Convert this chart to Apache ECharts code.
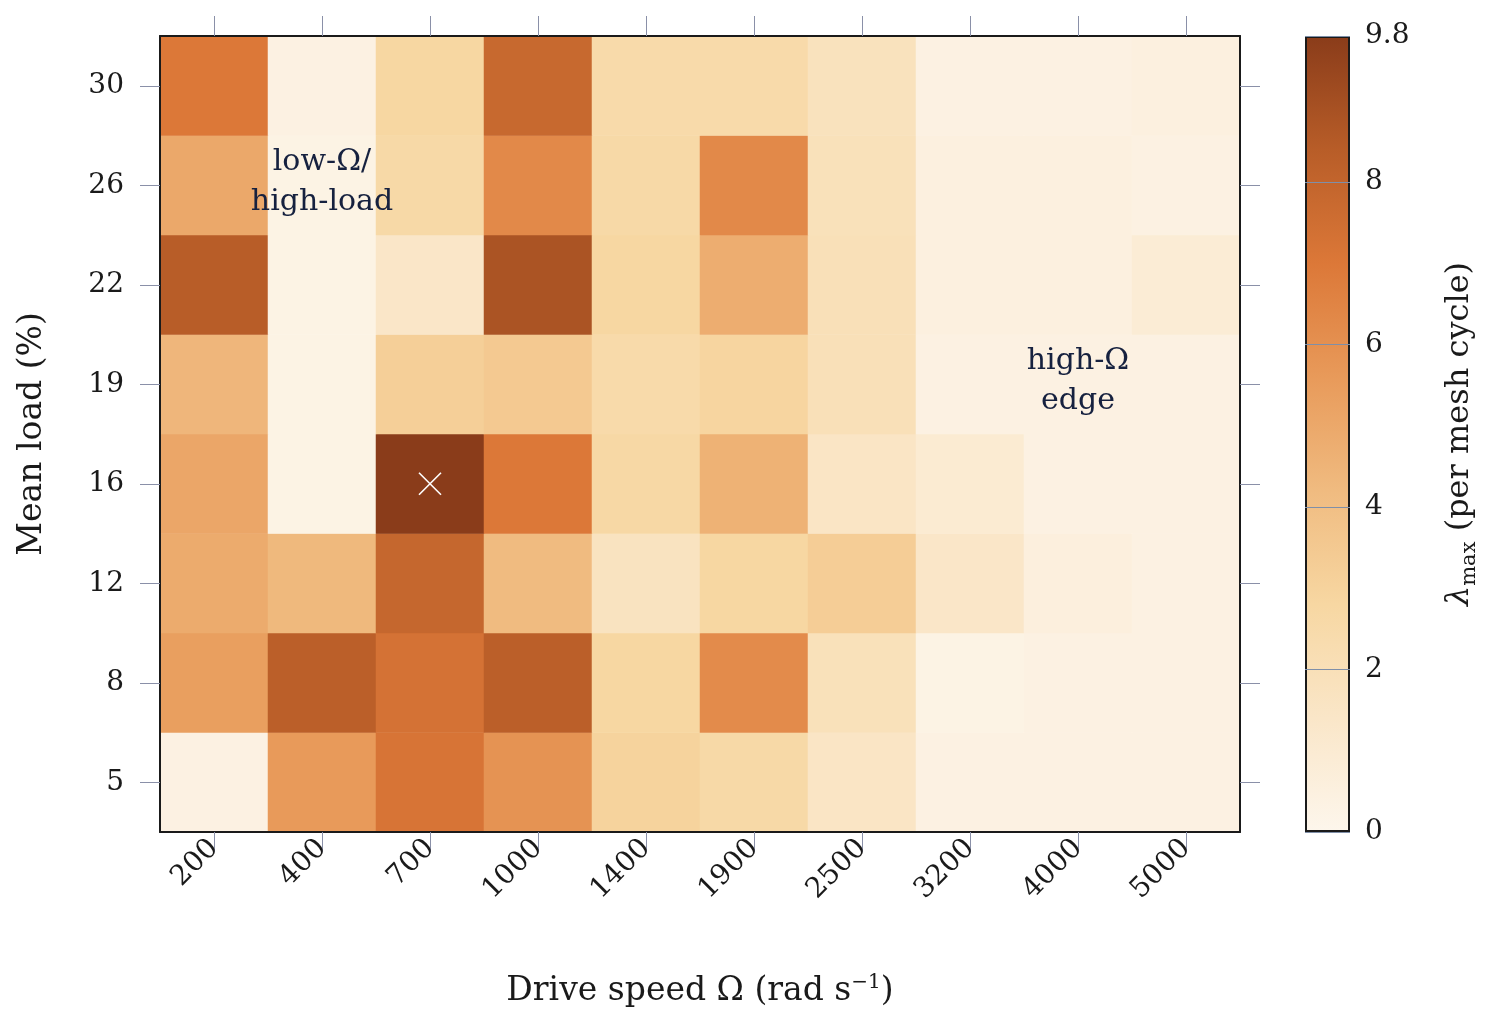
<!DOCTYPE html>
<html>
<head>
<meta charset="utf-8">
<script src="https://cdn.jsdelivr.net/npm/echarts@6/dist/echarts.min.js"></script>
<style>
  html, body { margin: 0; padding: 0; background: #fff; }
  #chart { width: 1498px; height: 1027px; }
</style>
</head>
<body>
<div id="chart"></div>
<script>
// categories
const speeds = ['200', '400', '700', '1000', '1400', '1900', '2500', '3200', '4000', '5000']
const loads = ['5', '8', '12', '16', '19', '22', '26', '30']

// lambda_max per load row, one value per drive speed
const load5 = [0.4, 5.6, 7.2, 5.9, 3.0, 2.6, 1.5, 0.4, 0.4, 0.4]
const load8 = [5.4, 8.3, 7.3, 8.3, 2.8, 6.2, 1.9, 0.3, 0.4, 0.4]
const load12 = [4.9, 4.3, 7.9, 4.2, 1.7, 2.8, 3.3, 1.4, 0.6, 0.4]
const load16 = [5.1, 0.3, 9.8, 7.0, 2.7, 4.6, 1.5, 1.0, 0.4, 0.4]
const load19 = [4.4, 0.3, 3.2, 3.5, 2.5, 2.9, 2.0, 0.4, 0.4, 0.4]
const load22 = [8.4, 0.3, 1.4, 8.8, 2.8, 4.8, 2.0, 0.5, 0.5, 0.9]
const load26 = [5.0, 0.3, 2.6, 6.3, 2.6, 6.3, 1.9, 0.5, 0.5, 0.4]
const load30 = [7.0, 0.4, 2.8, 7.8, 2.5, 2.5, 1.8, 0.4, 0.4, 0.5]
const rows = [load5, load8, load12, load16, load19, load22, load26, load30]

const lambdaMin = 0
const lambdaMax = 9.8
const colorbarTicks = [0, 2, 4, 6, 8, 9.8]

// peak marker and region notes
const peak = ['700', '16']
const notes = [
  ['400', '26', 'low-Ω/\nhigh-load'],
  ['4000', '19', 'high-Ω\nedge']
]

const palette = ['#fdf6ec', '#fae6c8', '#f7d7a2', '#f0bb80', '#e89a5a', '#dc7838', '#b85d28', '#8a3c1a']

const heatData = []
rows.forEach((row, j) => {
  row.forEach((v, i) => heatData.push([i, j, v]))
})

const FONT = '"DejaVu Serif", "Liberation Serif", serif'
const INK = '#1a1a1a'
const TICK = '#8a90a8'

const chart = echarts.init(document.getElementById('chart'))

const frameAxis = {
  axisLine: { show: true, lineStyle: { color: '#1a1a1a', width: 2 } },
  axisTick: { show: true, length: 20, alignWithLabel: true, lineStyle: { color: TICK, width: 1 } },
  splitLine: { show: false },
  z: 10
}

chart.setOption({
  animation: false,
  textStyle: { fontFamily: FONT },
  grid: [
    { left: 160, right: 258, top: 36, bottom: 195, outerBoundsMode: 'none' },
    { left: 1305, width: 45, top: 36, bottom: 195, outerBoundsMode: 'none' }
  ],
  visualMap: {
    show: false,
    seriesIndex: 0,
    min: lambdaMin,
    max: lambdaMax,
    inRange: { color: palette }
  },
  xAxis: [
    Object.assign({}, frameAxis, {
      type: 'category',
      gridIndex: 0,
      data: speeds,
      position: 'bottom',
      axisLabel: { rotate: 45, margin: 12, fontSize: 28, color: INK, fontFamily: FONT },
      name: 'Drive speed Ω (rad s{sup|−1})',
      nameLocation: 'middle',
      nameGap: 141,
      nameTextStyle: {
        fontSize: 33, color: INK, fontFamily: FONT, lineHeight: 36,
        rich: { sup: { fontSize: 20, lineHeight: 36, verticalAlign: 'top', fontFamily: FONT, color: INK } }
      }
    }),
    Object.assign({}, frameAxis, {
      type: 'category',
      gridIndex: 0,
      data: speeds,
      position: 'top',
      axisLabel: { show: false }
    }),
    {
      type: 'category',
      gridIndex: 1,
      data: [''],
      show: false
    }
  ],
  yAxis: [
    Object.assign({}, frameAxis, {
      type: 'category',
      gridIndex: 0,
      data: loads,
      position: 'left',
      axisLabel: { margin: 36, fontSize: 28, color: INK, fontFamily: FONT },
      name: 'Mean load (%)',
      nameLocation: 'middle',
      nameGap: 111,
      nameRotate: 90,
      nameTextStyle: { fontSize: 33, color: INK, fontFamily: FONT }
    }),
    Object.assign({}, frameAxis, {
      type: 'category',
      gridIndex: 0,
      data: loads,
      position: 'right',
      axisLabel: { show: false }
    }),
    {
      type: 'value',
      gridIndex: 1,
      position: 'right',
      min: lambdaMin,
      max: lambdaMax,
      interval: 2,
      z: 10,
      axisLine: { show: false },
      axisTick: { show: false },
      splitLine: { show: true, lineStyle: { color: '#7f8fa8', width: 1 } },
      axisLabel: { customValues: colorbarTicks, margin: 15, fontSize: 28, color: INK, fontFamily: FONT },
      name: '{i|λ}{sub|max} (per mesh cycle)',
      nameLocation: 'middle',
      nameGap: 90,
      nameRotate: 90,
      nameTextStyle: {
        fontSize: 32, color: INK, fontFamily: FONT, lineHeight: 40,
        rich: {
          i: { fontSize: 32, fontStyle: 'italic', fontFamily: FONT, color: INK, lineHeight: 40 },
          sub: { fontSize: 21, fontFamily: FONT, color: INK, lineHeight: 40, verticalAlign: 'bottom' }
        }
      }
    }
  ],
  series: [
    {
      type: 'heatmap',
      xAxisIndex: 0,
      yAxisIndex: 0,
      data: heatData,
      itemStyle: { borderWidth: 0 },
      emphasis: { disabled: true }
    },
    {
      type: 'scatter',
      xAxisIndex: 0,
      yAxisIndex: 0,
      z: 5,
      data: [peak],
      symbol: 'path://M0,0L10,10M10,0L0,10',
      symbolSize: 22,
      itemStyle: { color: 'rgba(0,0,0,0)', borderColor: '#ffffff', borderWidth: 1.6, opacity: 1 },
      silent: true
    },
    {
      type: 'scatter',
      xAxisIndex: 0,
      yAxisIndex: 0,
      z: 6,
      data: notes.map(n => ({ value: [n[0], n[1]], label: { formatter: n[2] } })),
      symbolSize: 0,
      itemStyle: { color: 'rgba(0,0,0,0)', opacity: 1 },
      label: {
        show: true,
        position: 'inside',
        offset: [0, -3],
        fontSize: 30,
        lineHeight: 40,
        color: '#16213f',
        textBorderWidth: 0,
        fontFamily: FONT,
        align: 'center'
      },
      silent: true
    },
    {
      type: 'bar',
      xAxisIndex: 2,
      yAxisIndex: 2,
      data: [lambdaMax],
      barWidth: '100%',
      silent: true,
      itemStyle: {
        borderColor: '#1a1a1a',
        borderWidth: 2,
        color: new echarts.graphic.LinearGradient(0, 1, 0, 0,
          palette.map((c, k) => ({ offset: k / (palette.length - 1), color: c })))
      }
    }
  ]
})
</script>
</body>
</html>
